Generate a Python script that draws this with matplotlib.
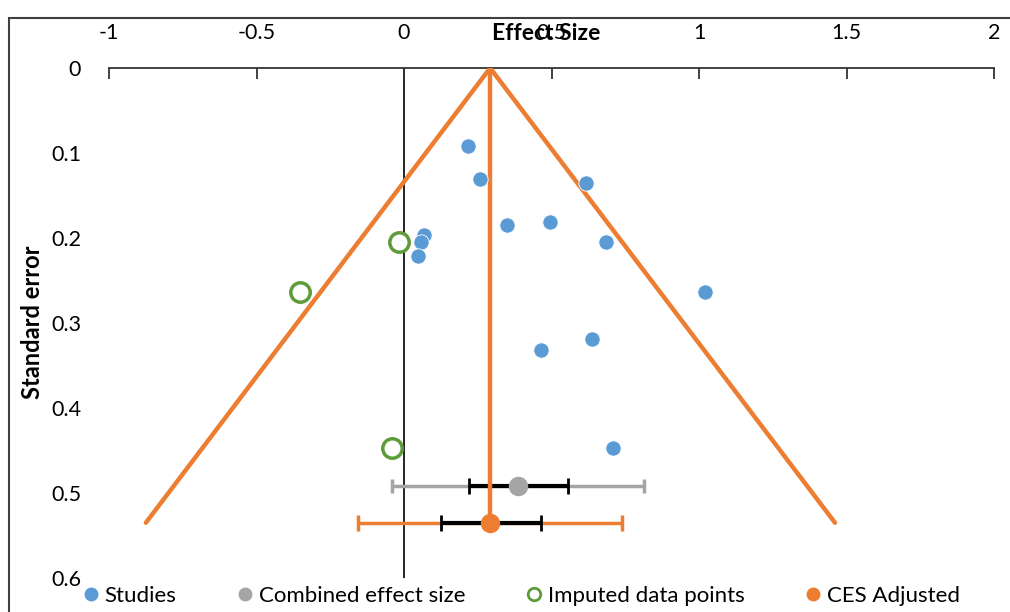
import numpy as np
import matplotlib
matplotlib.use("Agg")
import matplotlib.pyplot as plt
from matplotlib.lines import Line2D
from matplotlib.patches import Rectangle

plt.rcParams['font.family'] = ['Lato', 'DejaVu Sans']

# Studien (Effektgroesse, Standardfehler)
studies_x = [0.217, 0.258, 0.617, 0.495, 0.349, 0.068, 0.058, 0.047, 0.685, 1.02, 0.637, 0.464, 0.708]
studies_se = [0.092, 0.131, 0.135, 0.181, 0.185, 0.196, 0.205, 0.221, 0.205, 0.264, 0.319, 0.332, 0.447]

# imputierte Punkte (trim and fill)
imputed_x = [-0.017, -0.353, -0.041]
imputed_se = [0.205, 0.264, 0.447]

# kombinierte Effektgroesse
ces_x, ces_se = 0.386, 0.492
ces_ci95 = (-0.041, 0.814)
ces_ci_inner = (0.220, 0.556)

# adjustierte kombinierte Effektgroesse
adj_x, adj_se = 0.292, 0.535
adj_ci95 = (-0.156, 0.739)
adj_ci_inner = (0.125, 0.464)

# Trichter
funnel_x = [-0.875, 0.292, 1.461]
funnel_se = [0.535, 0.0, 0.535]

xticks = [-1, -0.5, 0, 0.5, 1, 1.5, 2]
yticks = [0, 0.1, 0.2, 0.3, 0.4, 0.5, 0.6]

blue = '#5B9BD5'
orange = '#ED7D31'
gray = '#A5A5A5'
green = '#5E9B3A'

fig = plt.figure(figsize=(10.10, 6.12), dpi=100)
ax = fig.add_axes([109/1010, 1 - 578/612, (994-109)/1010, (578-68)/612])
ax.set_xlim(-1, 2)
ax.set_ylim(0.6, 0)

for s in ['left', 'right', 'bottom']:
    ax.spines[s].set_visible(False)
ax.spines['top'].set_linewidth(1.3)
ax.spines['top'].set_color('#333333')

ax.xaxis.set_ticks_position('top')
ax.set_xticks(xticks)
ax.set_xticklabels(['-1', '-0.5', '0', '0.5', '1', '1.5', '2'])
ax.tick_params(axis='x', direction='in', length=8, width=1.3, color='#333333',
               pad=18, labelsize=15.5)
ax.set_yticks(yticks)
ax.set_yticklabels(['0', '0.1', '0.2', '0.3', '0.4', '0.5', '0.6'])
ax.tick_params(axis='y', length=0, pad=20, labelsize=15.5)

ax.axvline(0, color='black', lw=1.2, zorder=1)

# Fehlerbalken
ax.errorbar(ces_x, ces_se, xerr=[[ces_x - ces_ci95[0]], [ces_ci95[1] - ces_x]],
            fmt='none', ecolor=gray, elinewidth=2.5, capsize=5, capthick=2.5, zorder=2)
ax.errorbar(ces_x, ces_se, xerr=[[ces_x - ces_ci_inner[0]], [ces_ci_inner[1] - ces_x]],
            fmt='none', ecolor='black', elinewidth=3, capsize=6, capthick=2, zorder=3)
ax.errorbar(adj_x, adj_se, xerr=[[adj_x - adj_ci95[0]], [adj_ci95[1] - adj_x]],
            fmt='none', ecolor=orange, elinewidth=2.5, capsize=6, capthick=2.5, zorder=2)
ax.errorbar(adj_x, adj_se, xerr=[[adj_x - adj_ci_inner[0]], [adj_ci_inner[1] - adj_x]],
            fmt='none', ecolor='black', elinewidth=3, capsize=6, capthick=2, zorder=3)

# Trichter
ax.plot(funnel_x, funnel_se, color=orange, lw=3.2, zorder=4, solid_capstyle='round')
ax.plot([adj_x, adj_x], [0, adj_se], color=orange, lw=3.2, zorder=4)

ax.plot(studies_x, studies_se, 'o', color=blue, ms=11, mec='white', mew=0.6, zorder=5)
ax.plot(imputed_x, imputed_se, 'o', mfc='white', mec=green, ms=14, mew=2.5, zorder=5)
ax.plot(ces_x, ces_se, 'o', color=gray, ms=13, zorder=6)
ax.plot(adj_x, adj_se, 'o', color=orange, ms=13, zorder=6)

fig.text(546/1010, 1 - 33/612, 'Effect Size', ha='center', va='center',
         fontsize=16.5, fontweight='bold')
fig.text(33/1010, 1 - 322/612, 'Standard error', ha='center', va='center',
         rotation=90, fontsize=17, fontweight='bold')

handles = [
    Line2D([], [], ls='none', marker='o', color=blue, ms=9),
    Line2D([], [], ls='none', marker='o', color=gray, ms=9),
    Line2D([], [], ls='none', marker='o', mfc='white', mec=green, ms=9, mew=2),
    Line2D([], [], ls='none', marker='o', color=orange, ms=9),
]
labels = ['Studies', 'Combined effect size', 'Imputed data points', 'CES Adjusted']
fig.legend(handles, labels, loc='center', bbox_to_anchor=(521/1010, 1 - 596/612), ncol=4,
           frameon=False, fontsize=16, handletextpad=0.2, columnspacing=2.7,
           handlelength=0.8, borderpad=0, borderaxespad=0)

# Rahmen
fig.patches.append(Rectangle((9/1010, -0.1), 1.2, 1 - 18/612 + 0.1, transform=fig.transFigure,
                             fill=False, edgecolor='#404040', lw=1.5))

fig.savefig('out.png', dpi=100)
